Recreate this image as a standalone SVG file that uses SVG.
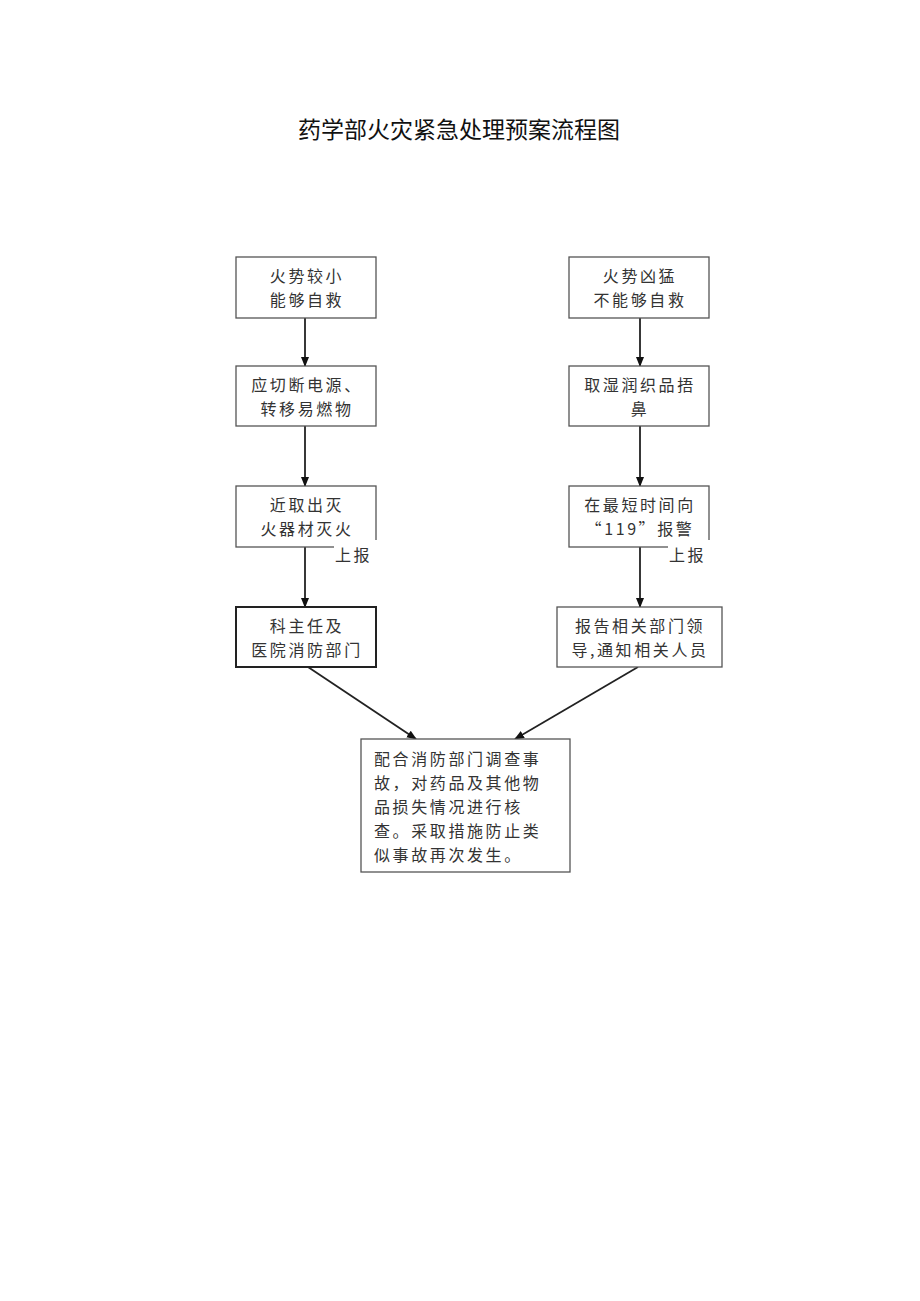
<svg xmlns="http://www.w3.org/2000/svg" width="920" height="1301" viewBox="0 0 920 1301">
<style>
.b{fill:#fff;stroke:#555;stroke-width:1.3}
.bt{fill:#fff;stroke:#222;stroke-width:2}
.t{font-family:"Noto Sans CJK SC","Liberation Sans",sans-serif;font-size:16px;fill:#333;letter-spacing:2.6px}
.c{text-anchor:middle}
.ti{font-family:"Noto Sans CJK SC","Liberation Sans",sans-serif;font-size:23px;fill:#111;text-anchor:middle}
.ln{stroke:#222;stroke-width:1.8;fill:none;marker-end:url(#ah)}
</style>
<defs>
<marker id="ah" markerWidth="10" markerHeight="10" refX="9" refY="5" orient="auto" markerUnits="userSpaceOnUse">
<path d="M0,1 L10,5 L0,9 Z" fill="#111"/>
</marker>
</defs>
<rect width="920" height="1301" fill="#fff"/>
<text class="ti" x="459" y="138">药学部火灾紧急处理预案流程图</text>

<g id="connectors">
<line class="ln" x1="305" y1="318" x2="305" y2="366"/>
<line class="ln" x1="305" y1="426" x2="305" y2="486"/>
<line class="ln" x1="305" y1="547" x2="305" y2="607"/>
<line class="ln" x1="640" y1="318" x2="640" y2="366"/>
<line class="ln" x1="640" y1="426" x2="640" y2="486"/>
<line class="ln" x1="640" y1="547" x2="640" y2="607"/>
<line class="ln" x1="308" y1="667" x2="416" y2="739"/>
<line class="ln" x1="638" y1="667" x2="515" y2="739"/>
</g>

<g id="n1"><rect class="b" x="236" y="257" width="140" height="61"/>
<text class="t c" x="307" y="282">火势较小</text><text class="t c" x="307" y="306">能够自救</text></g>
<g id="n2"><rect class="b" x="236" y="366" width="140" height="60"/>
<text class="t c" x="307" y="391">应切断电源、</text><text class="t c" x="307" y="415">转移易燃物</text></g>
<g id="n3"><rect class="b" x="236" y="486" width="140" height="61"/>
<rect x="334" y="540" width="46" height="26" fill="#fff"/>
<text class="t c" x="307" y="511">近取出灭</text><text class="t c" x="307" y="535">火器材灭火</text>
<text class="t" x="335" y="561">上报</text></g>
<g id="n4"><rect class="bt" x="236" y="607" width="140" height="60"/>
<text class="t c" x="307" y="632">科主任及</text><text class="t c" x="307" y="656">医院消防部门</text></g>

<g id="m1"><rect class="b" x="569" y="257" width="140" height="61"/>
<text class="t c" x="640" y="282">火势凶猛</text><text class="t c" x="640" y="306">不能够自救</text></g>
<g id="m2"><rect class="b" x="569" y="366" width="140" height="60"/>
<text class="t c" x="640" y="391">取湿润织品捂</text><text class="t c" x="640" y="415">鼻</text></g>
<g id="m3"><rect class="b" x="569" y="486" width="140" height="61"/>
<rect x="668" y="540" width="46" height="26" fill="#fff"/>
<text class="t c" x="640" y="511">在最短时间向</text><text class="t c" x="640" y="535">“119”报警</text>
<text class="t" x="669" y="561">上报</text></g>
<g id="m4"><rect class="b" x="557" y="607" width="165" height="60"/>
<text class="t c" x="640" y="632">报告相关部门领</text><text class="t c" x="640" y="656">导,通知相关人员</text></g>

<g id="end"><rect class="b" x="361" y="739" width="209" height="133"/>
<text class="t" x="374" y="765">配合消防部门调查事</text>
<text class="t" x="374" y="789">故，对药品及其他物</text>
<text class="t" x="374" y="813">品损失情况进行核</text>
<text class="t" x="374" y="837">查。采取措施防止类</text>
<text class="t" x="374" y="861">似事故再次发生。</text></g>
</svg>
